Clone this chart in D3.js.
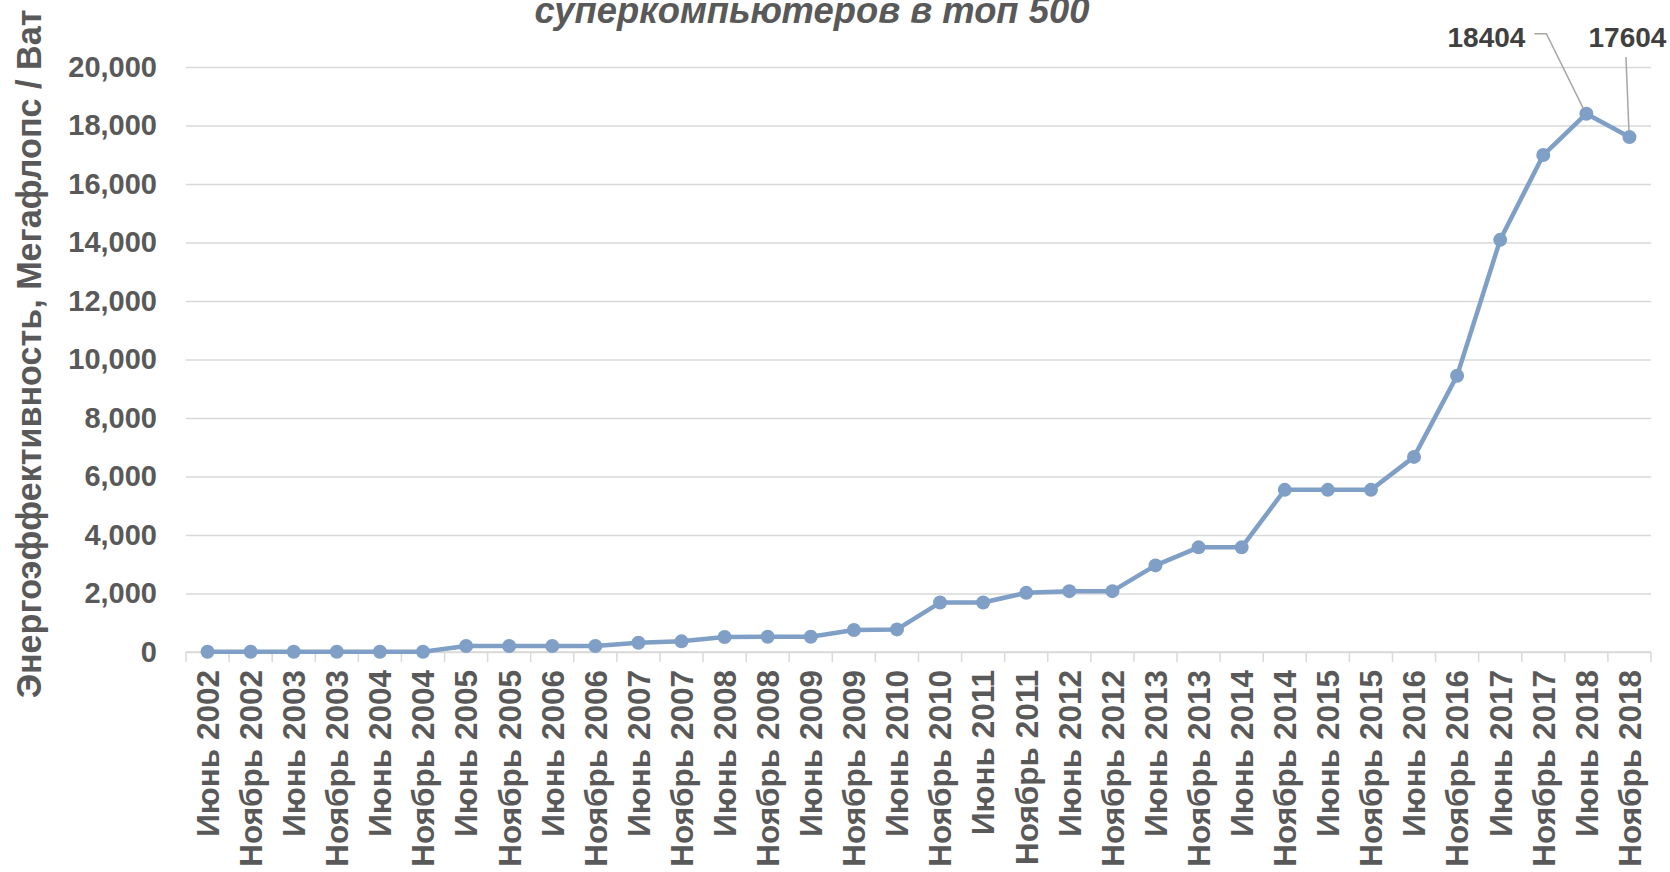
<!DOCTYPE html>
<html>
<head>
<meta charset="utf-8">
<script src="https://cdn.jsdelivr.net/npm/d3@7"></script>
<style>
body { margin: 0; background: #fff; }
svg { display: block; }
</style>
</head>
<body>
<div class="container"></div>
<script>
var periods = [
    "Июнь 2002", "Ноябрь 2002", "Июнь 2003", "Ноябрь 2003", "Июнь 2004", "Ноябрь 2004",
    "Июнь 2005", "Ноябрь 2005", "Июнь 2006", "Ноябрь 2006", "Июнь 2007", "Ноябрь 2007",
    "Июнь 2008", "Ноябрь 2008", "Июнь 2009", "Ноябрь 2009", "Июнь 2010", "Ноябрь 2010",
    "Июнь 2011", "Ноябрь 2011", "Июнь 2012", "Ноябрь 2012", "Июнь 2013", "Ноябрь 2013",
    "Июнь 2014", "Ноябрь 2014", "Июнь 2015", "Ноябрь 2015", "Июнь 2016", "Ноябрь 2016",
    "Июнь 2017", "Ноябрь 2017", "Июнь 2018", "Ноябрь 2018"
];
var efficiency = [
    10, 10, 10, 10, 10, 10,
    205, 205, 205, 205, 318, 364,
    511, 523, 523, 750, 773, 1691,
    1691, 2023, 2080, 2080, 2960, 3577,
    3577, 5543, 5543, 5543, 6670, 9447,
    14091, 16991, 18404, 17604
];
var yTicks = [0, 2000, 4000, 6000, 8000, 10000, 12000, 14000, 16000, 18000, 20000];
var labelled = [32, 33];   // points carrying a data label
var titleText = "суперкомпьютеров в топ 500";
var yTitleText = "Энергоэффективность, Мегафлопс / Ват";

var margin = { top: 67, right: 19, bottom: 220, left: 186 };
var width = 1670 - margin.left - margin.right;
var height = 872 - margin.top - margin.bottom;
var textColor = "#595959";
var lineColor = "#7f9fc6";
var gridColor = "#d9d9d9";
var font = "'Liberation Sans', Arial, sans-serif";

var root = d3.select("body").select(".container")
    .append("svg")
    .attr("width", 1670)
    .attr("height", 872);

var svg = root.append("g")
    .attr("transform", "translate(" + margin.left + "," + margin.top + ")");

var x = d3.scaleBand()
    .domain(periods)
    .range([0, width]);

var y = d3.scaleLinear()
    .domain([0, 20000])
    .range([height, 0]);

// gridlines + y tick labels
var yAxis = svg.append("g")
    .call(d3.axisLeft(y).tickValues(yTicks).tickSize(-width).tickPadding(29).tickFormat(d3.format(",")));
yAxis.select(".domain").remove();
yAxis.selectAll(".tick line").attr("stroke", gridColor).attr("stroke-width", 1.5);
yAxis.selectAll(".tick text")
    .attr("fill", textColor)
    .style("font-family", font)
    .style("font-weight", "bold")
    .style("font-size", "29px");

// x axis line and tick marks at category boundaries
svg.append("line")
    .attr("x1", 0).attr("x2", width)
    .attr("y1", height).attr("y2", height)
    .attr("stroke", gridColor).attr("stroke-width", 1.5);

var edges = periods.map(function(d) { return x(d); }).concat([width]);
svg.selectAll(".xtick")
    .data(edges)
    .enter()
    .append("line")
    .attr("class", "xtick")
    .attr("x1", function(d) { return d; })
    .attr("x2", function(d) { return d; })
    .attr("y1", height)
    .attr("y2", height + 10)
    .attr("stroke", gridColor)
    .attr("stroke-width", 1.5);

var xAxis = svg.append("g")
    .attr("transform", "translate(0," + height + ")")
    .call(d3.axisBottom(x).tickSize(0));
xAxis.select(".domain").remove();
xAxis.selectAll("text")
    .attr("transform", "rotate(-90)")
    .attr("x", -18)
    .attr("y", 0)
    .attr("dy", "0.36em")
    .attr("fill", textColor)
    .style("text-anchor", "end")
    .style("font-family", font)
    .style("font-weight", "bold")
    .style("font-size", "31.5px");

// line + markers
var cx = function(d, i) { return x(periods[i]) + x.bandwidth() / 2; };

var line = d3.line()
    .x(cx)
    .y(function(d) { return y(d); });

svg.append("path")
    .datum(efficiency)
    .attr("fill", "none")
    .attr("stroke", lineColor)
    .attr("stroke-width", 4.5)
    .attr("stroke-linejoin", "round")
    .attr("d", line);

svg.selectAll(".dot")
    .data(efficiency)
    .enter()
    .append("circle")
    .attr("class", "dot")
    .attr("cx", cx)
    .attr("cy", function(d) { return y(d); })
    .attr("r", 7)
    .attr("fill", lineColor);

// data labels with leader lines
var labelStyle = [
    { anchor: "end", tx: -61, ty: -67, leader: [[-52, -80], [-40, -80], [-3, -5]] },
    { anchor: "middle", tx: -2, ty: -90, leader: [[-3.5, -80], [-0.5, -6]] }
];
labelled.forEach(function(i, k) {
    var px = cx(efficiency[i], i);
    var py = y(efficiency[i]);
    var s = labelStyle[k];
    svg.append("path")
        .attr("d", d3.line()(s.leader.map(function(p) { return [px + p[0], py + p[1]]; })))
        .attr("fill", "none")
        .attr("stroke", "#a6a6a6")
        .attr("stroke-width", 1.5);
    svg.append("text")
        .attr("x", px + s.tx)
        .attr("y", py + s.ty)
        .attr("text-anchor", s.anchor)
        .attr("fill", "#404040")
        .style("font-family", font)
        .style("font-weight", "bold")
        .style("font-size", "28px")
        .text(efficiency[i]);
});

// fit text to a given width
function fit(sel, target) {
    var fs = parseFloat(sel.style("font-size"));
    var w = sel.node().getComputedTextLength();
    sel.style("font-size", (fs * target / w) + "px");
}

// title (only its second line is visible)
var title = root.append("text")
    .attr("x", 812)
    .attr("y", 23)
    .attr("text-anchor", "middle")
    .attr("fill", textColor)
    .style("font-family", font)
    .style("font-weight", "bold")
    .style("font-style", "italic")
    .style("font-size", "30px")
    .text(titleText);
fit(title, 555);

// y axis title
var yTitle = root.append("text")
    .attr("transform", "translate(29,354) rotate(-90)")
    .attr("text-anchor", "middle")
    .attr("dy", "0.36em")
    .attr("fill", textColor)
    .style("font-family", font)
    .style("font-weight", "bold")
    .style("font-size", "30px")
    .text(yTitleText);
fit(yTitle, 689);
</script>
</body>
</html>
